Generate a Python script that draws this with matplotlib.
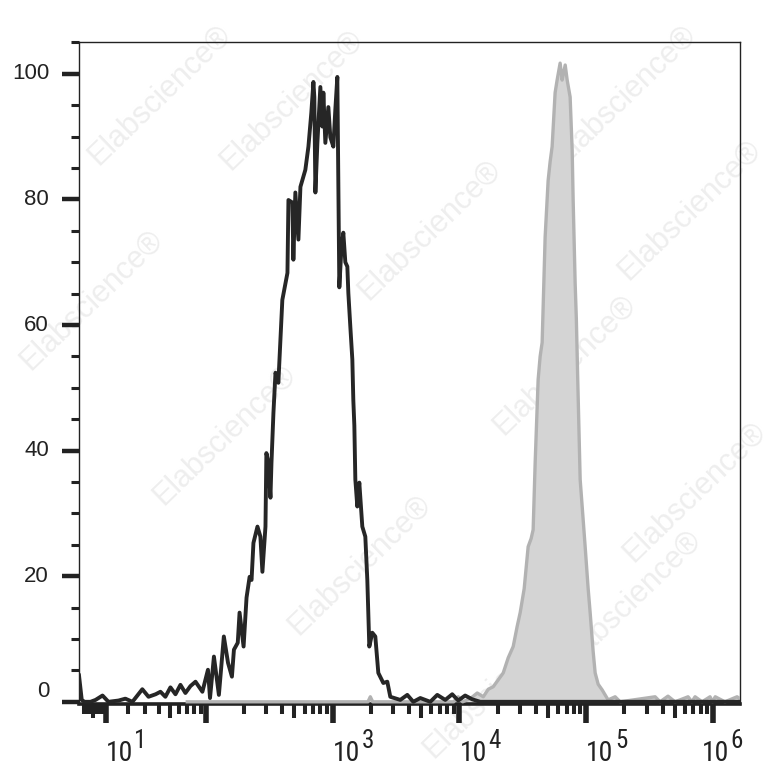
import numpy as np
import matplotlib
matplotlib.use("Agg")
import matplotlib.pyplot as plt
from matplotlib import font_manager as fm
from matplotlib.font_manager import FontProperties
from matplotlib.ticker import FixedLocator, NullFormatter

# ---------------- data ----------------
# unstained / isotype control histogram (black line)
black_x = [0, 1, 2.0, 4.2, 6.1, 8.8, 11.2, 15.6, 18.9, 22.6, 28.4, 32.5, 37.7,
           41.6, 45.9, 50.7, 55.9, 61.5, 67.6, 74.3, 81.7, 92.9, 103, 107, 115,
           126, 138, 149, 160, 166, 178, 184, 198, 209, 221, 229, 237, 255, 269,
           279, 295, 300, 311, 323, 329, 341, 354, 373, 401, 440, 448, 481, 490,
           508, 537, 557, 609, 644, 679, 705, 717, 731, 758, 800, 830, 845, 876,
           925, 959, 1013, 1050, 1089, 1129, 1171, 1214, 1259, 1306, 1330, 1379,
           1430, 1456, 1483, 1510, 1565, 1623, 1714, 1810, 1877, 1946, 2055, 2170,
           2292, 2509, 2698, 2849, 3416, 3879, 4325, 4911, 5888, 6683, 7727, 8770,
           9775, 11090, 12600, 14580, 1630000]
black_y = [4.2, 0.3, 0, 0, 0.3, 1.0, 0, 0.2, 0.5, 0, 2.0, 0.8, 1.2,
           1.6, 0.8, 2.3, 1.2, 2.7, 1.4, 2.5, 3.2, 1.6, 5.1, 0.6, 7.2,
           1.1, 10.4, 6.2, 4.0, 8.3, 9.4, 14.2, 8.8, 16.6, 19.9, 19.4, 25.3, 27.9, 26.3,
           20.7, 27.9, 39.6, 38.2, 32.5, 38.0, 46.0, 52.4, 50.8, 64.0, 68.3, 79.9, 79.5, 70.4,
           81.1, 73.6, 82.0, 84.7, 88.4, 93.8, 98.7, 96.3, 81.1, 89.0, 97.9, 91.6, 97.0, 89.0,
           94.7, 89.9, 88.4, 94.3, 99.5, 66.0, 72.0, 74.7, 70.0, 69.3, 65.1, 59.7,
           54.5, 48.0, 44.0, 35.4, 31.1, 34.9, 27.9, 26.3, 19.4, 8.8, 11.0, 10.4,
           4.6, 3.0, 3.2, 0.8, 0.3, 1.1, 0, 0.6, 0, 1.1, 0.3, 1.2,
           0.2, 1.0, 0.4, 0, 0]

# stained sample histogram (grey filled)
grey_x = [70, 1900, 1982, 2070, 9000, 9780, 10600, 12170, 13810, 15410, 16870,
          18460, 20220, 22140, 24230, 26530, 28510, 30120, 32380, 34810, 36750,
          38110, 39520, 41730, 43270, 44870, 47380, 50030, 51880, 53790, 56800,
          58900, 62200, 64500, 65700, 68200, 70700, 74600, 77400, 78800, 81700,
          83500, 85500, 89500, 94500, 98000, 103500, 107300, 113300, 117500,
          124100, 133400, 148700, 168900, 184800, 349000, 382000, 441000, 501000,
          635000, 680000, 721000, 819000, 946000, 990000, 1040000, 1240000,
          1545000, 1630000]
grey_y = [0, 0, 0.8, 0, 0, 0.8, 0, 0.5, 1.4, 0.8, 2.0,
          2.4, 3.5, 4.6, 7.0, 8.8, 12.0, 14.2, 18.0, 24.7, 26.0,
          27.4, 38.0, 51.3, 55.0, 57.2, 74.0, 83.0, 86.0, 88.4, 97.0,
          99.0, 101.7, 99.0, 99.8, 101.4, 99.0, 96.3, 87.9, 79.9, 66.7,
          61.0, 52.0, 35.4, 29.0, 24.7, 18.0, 14.2, 8.0, 4.6,
          2.8, 1.9, 0.3, 0.8, 0, 0.8, 0, 0.9, 0,
          0.8, 0, 0.8, 0, 0.8, 0, 0.8, 0,
          0.8, 0.5]

y_major = [0, 20, 40, 60, 80, 100]
y_minor = [5, 10, 15, 25, 30, 35, 45, 50, 55, 65, 70, 75, 85, 90, 95, 105]
x_major = [1e1, 1e2, 1e3, 1e4, 1e5, 1e6]
x_label_vals = [1e1, 1e3, 1e4, 1e5, 1e6]
x_label_exps = ["1", "3", "4", "5", "6"]
watermark = "Elabscience\u00ae"

# ---------------- fonts ----------------
avail = {f.name for f in fm.fontManager.ttflist}
SANS = "Liberation Sans" if "Liberation Sans" in avail else "DejaVu Sans"


def narrow_font():
    prefs = ["Liberation Sans Narrow", "Arial Narrow", "Roboto Condensed",
             "Open Sans Condensed", "DejaVu Sans Condensed", "Noto Sans Condensed"]
    normal_w = (400, "normal", "regular", "book", "Book", "Regular")
    for name in prefs:
        for f in fm.fontManager.ttflist:
            if f.name == name and f.style == "normal" and f.weight in normal_w:
                return FontProperties(fname=f.fname)
    for f in fm.fontManager.ttflist:
        if (str(f.stretch) in ("condensed", "semi-condensed")
                and f.style == "normal" and f.weight in normal_w
                and ("Sans" in f.name or "Roboto" in f.name)):
            return FontProperties(fname=f.fname)
    return None


NARROW_FP = narrow_font()
INK = "#222222"

fig = plt.figure(figsize=(7.79, 7.80), dpi=100)
fig.patch.set_facecolor("white")

# faint watermarks (figure pixel centres), behind the plot
wm_centres = [(292, 100), (430, 230), (565, 365), (695, 492), (92, 300), (225, 435),
              (360, 565), (495, 688), (690, 210), (625, 95), (630, 600), (160, 95)]
for cx, cy in wm_centres:
    fig.text(cx / 779, 1 - cy / 780, watermark, rotation=44, ha="center", va="center",
             fontsize=22, color="#eeeeee", family=SANS, zorder=0)

ax = fig.add_axes([79 / 779, 76 / 780, 661 / 779, 661.6 / 780])
ax.set_zorder(2)
ax.patch.set_alpha(0)


def fwd(v):
    return np.arcsinh(np.asarray(v, dtype=float) / 20.0)


def inv(v):
    return 20.0 * np.sinh(np.asarray(v, dtype=float))


ax.set_xscale("function", functions=(fwd, inv))
ax.set_xlim(0, 1.63e6)
ax.set_ylim(-0.35, 105.0)

# histograms
ax.fill_between(grey_x, 0, grey_y, facecolor="#d4d4d4", edgecolor="none", zorder=3)
ax.plot(grey_x, grey_y, color="#b2b2b2", lw=2.4, zorder=3.1)
ax.plot(black_x, black_y, color="#262626", lw=2.8, zorder=4)

# spines
for s in ["top", "right", "left"]:
    ax.spines[s].set_linewidth(1.0)
    ax.spines[s].set_color(INK)
ax.spines["bottom"].set_linewidth(2.6)
ax.spines["bottom"].set_color(INK)

# ticks
x_minor = []
for d in range(0, 6):
    for k in range(2, 10):
        x_minor.append(k * 10.0 ** d)
ax.xaxis.set_major_locator(FixedLocator(x_major))
ax.xaxis.set_minor_locator(FixedLocator(x_minor))
ax.xaxis.set_major_formatter(NullFormatter())
ax.xaxis.set_minor_formatter(NullFormatter())
ax.yaxis.set_major_locator(FixedLocator(y_major))
ax.yaxis.set_minor_locator(FixedLocator(y_minor))
ax.yaxis.set_major_formatter(NullFormatter())
ax.yaxis.set_minor_formatter(NullFormatter())

ax.tick_params(axis="x", which="major", direction="out", length=14.0, width=4.0, color=INK)
ax.tick_params(axis="x", which="minor", direction="out", length=7.0, width=2.9, color=INK)
ax.tick_params(axis="y", which="major", direction="out", length=12.2, width=3.2, color=INK)
ax.tick_params(axis="y", which="minor", direction="out", length=5.8, width=2.2, color=INK)

# medium-length ticks at 5 x 10^n
mticks = ax.xaxis.get_minor_ticks(len(x_minor))
for t, v in zip(mticks, x_minor):
    if abs(v / 10 ** np.floor(np.log10(v)) - 5) < 1e-9:
        t.tick1line.set_markersize(10.0)

# y tick labels
for v in y_major:
    dy = 7.2 if v == 0 else 0.0
    ax.annotate(str(v), xy=(0, v), xycoords=("axes fraction", "data"),
                xytext=(-21.6, dy), textcoords="offset points", ha="right", va="center",
                fontsize=16, family=SANS, color=INK, annotation_clip=False)


def lab_kw(size):
    if NARROW_FP is not None:
        fp = NARROW_FP.copy()
        fp.set_size(size)
        return {"fontproperties": fp}
    return {"fontsize": size - 2, "family": SANS}


# x tick labels: 10 with superscript exponent
for v, e in zip(x_label_vals, x_label_exps):
    dx = -8.0 if e == "6" else 0.0
    base = ax.annotate("10", xy=(v, 0), xycoords=("data", "axes fraction"),
                       xytext=(dx, -41.0), textcoords="offset points", ha="left",
                       va="baseline", color=INK, annotation_clip=False, **lab_kw(20))
    ax.annotate(e, xy=(1, 0), xycoords=(base, "axes fraction"),
                xytext=(1.0, -31.7), textcoords="offset points", ha="left",
                va="baseline", color=INK, annotation_clip=False, **lab_kw(18))

fig.savefig("out.png", dpi=100, facecolor="white")
